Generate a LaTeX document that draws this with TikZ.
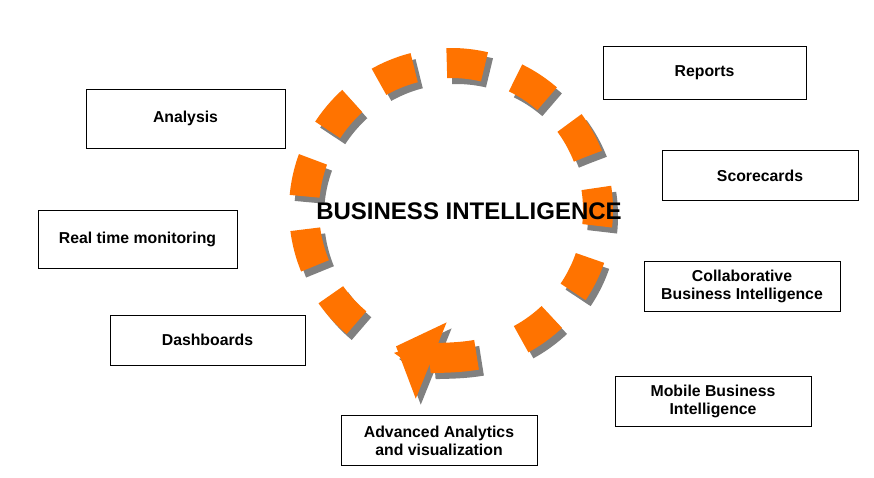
\documentclass[tikz,border=0pt]{standalone}
\usepackage{fontspec}
\setmainfont{Liberation Sans}
\usetikzlibrary{arrows.meta}

\tikzset{
    item/.style={rectangle, draw, thick, minimum width=196pt, minimum height=50pt, align=center, font=\bfseries\fontsize{15.8}{18}\selectfont},
    ring/.style={line width=30pt, dash pattern=on 38pt off 33pt}
}

\begin{document}
\begin{tikzpicture}[x=1pt, y=-1pt]
    \useasboundingbox (0,0) rectangle (874,477);
    % Ring with shadow
    \coordinate (O) at (451,210);
    \coordinate (S) at (456,216);
    \draw [ring, gray] (S) ++(130:147) arc (130:432:147);
    \draw [ring, orange!90!red] (O) ++(130:147) arc (130:432:147);
    \draw [line width=30pt, gray, -{Triangle[width=80pt,length=38pt]}] (S) ++(80:147) arc (80:112:147);
    \draw [line width=30pt, orange!90!red, -{Triangle[width=80pt,length=38pt]}] (O) ++(80:147) arc (80:112:147);
    \node [font=\bfseries\fontsize{24}{26}\selectfont] (BI) at (469,211) {BUSINESS INTELLIGENCE};
    % Place nodes
    \node [item, minimum width=203pt, minimum height=53pt] (rep) at (704.5,72.5) {Reports};
    \node [item, minimum width=199pt, minimum height=59pt] (ana) at (185.5,118.5) {Analysis};
    \node [item] (sco) at (760,175.5) {Scorecards};
    \node [item, minimum width=199pt, minimum height=58pt] (rtm) at (137.5,239) {Real time monitoring};
    \node [item] (col) at (742,286.5) {Collaborative\\Business Intelligence};
    \node [item, minimum width=195pt] (das) at (207.5,340) {Dashboards};
    \node [item] (mob) at (713,401) {Mobile Business\\Intelligence};
    \node [item] (adv) at (439,440.5) {Advanced Analytics\\and visualization};
\end{tikzpicture}
\end{document}
